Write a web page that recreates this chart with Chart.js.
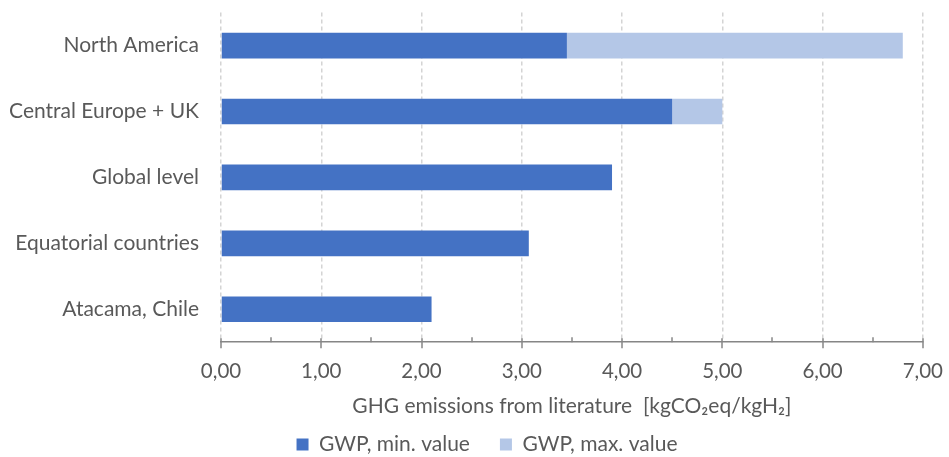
<!DOCTYPE html>
<html>
<head>
<meta charset="utf-8">
<script src="https://cdn.jsdelivr.net/npm/chart.js@4/dist/chart.umd.min.js"></script>
<style>
  body { margin: 0; background: #fff; }
</style>
</head>
<body>
<canvas id="ghg-chart" width="949" height="457"></canvas>
<script>
const regions = [
  "North America",
  "Central Europe + UK",
  "Global level",
  "Equatorial countries",
  "Atacama, Chile",
];
const minValues = [3.45, 4.5, 3.9, 3.07, 2.1];
const maxValues = [6.8, 5.0, null, null, null];
const xTicks = [0, 1, 2, 3, 4, 5, 6, 7];

const textColor = "#595959";
const fontFamily = "Lato, 'Open Sans', sans-serif";

// minor ticks and crossing major ticks on the x axis
const axisTicks = {
  id: "axisTicks",
  afterLayout(chart) {
    // legend sits a little right of centre in the original
    chart.legend.left += 21;
    chart.legend.right += 21;
  },
  afterDraw(chart) {
    const ctx = chart.ctx;
    const xScale = chart.scales.x;
    const y = chart.chartArea.bottom;
    ctx.save();
    ctx.strokeStyle = "#868686";
    ctx.lineWidth = 1.5;
    ctx.setLineDash([]);
    for (let v = xTicks[0]; v <= xTicks[xTicks.length - 1]; v += 0.5) {
      const x = Math.round(xScale.getPixelForValue(v));
      const major = Number.isInteger(v);
      ctx.beginPath();
      ctx.moveTo(x, major ? y - 4 : y - 5);
      ctx.lineTo(x, major ? y + 6 : y);
      ctx.stroke();
    }
    ctx.restore();
  },
};

const data = {
  labels: regions,
  datasets: [
    {
      label: "GWP, min. value",
      data: minValues,
      backgroundColor: "#4472c4",
      borderWidth: 0,
    },
    {
      label: "GWP, max. value",
      // floating bars from the min to the max value
      data: maxValues.map((m, i) => (m === null ? null : [minValues[i], m])),
      backgroundColor: "#b4c7e7",
      borderWidth: 0,
    },
  ],
};

const config = {
  type: "bar",
  data: data,
  options: {
    indexAxis: "y",
    responsive: false,
    animation: false,
    devicePixelRatio: 1,
    layout: {
      padding: { left: 0, right: 17, top: 10, bottom: -8 },
    },
    datasets: {
      bar: {
        categoryPercentage: 1,
        barPercentage: 0.39,
      },
    },
    scales: {
      x: {
        min: 0,
        max: 7,
        afterBuildTicks(scale) {
          scale.ticks = xTicks.map((v) => ({ value: v }));
        },
        ticks: {
          color: textColor,
          font: { family: fontFamily, size: 20.5 },
          padding: 6,
          callback: (v) => Number(v).toFixed(2).replace(".", ","),
        },
        grid: {
          color: "#d4d4d4",
          lineWidth: 1.5,
          drawTicks: true,
          tickLength: 11,
          tickColor: "rgba(0,0,0,0)",
        },
        border: {
          display: true,
          color: "#868686",
          width: 1.5,
          dash: [4, 3],
        },
        title: {
          display: true,
          text: "GHG emissions from literature  [kgCO₂eq/kgH₂]",
          color: textColor,
          font: { family: fontFamily, size: 21 },
          padding: { top: 4, bottom: -15 },
        },
      },
      y: {
        stacked: true,
        grid: { display: false, tickLength: 22 },
        border: { display: false },
        afterFit(scale) {
          scale.width = 221;
        },
        ticks: {
          color: textColor,
          font: { family: fontFamily, size: 21 },
          padding: 0,
        },
      },
    },
    plugins: {
      legend: {
        position: "bottom",
        labels: {
          color: textColor,
          font: { family: fontFamily, size: 21 },
          boxWidth: 12,
          boxHeight: 12,
          padding: 30,
        },
      },
      tooltip: { enabled: false },
    },
  },
  plugins: [axisTicks],
};

new Chart(document.getElementById("ghg-chart"), config);
</script>
</body>
</html>
